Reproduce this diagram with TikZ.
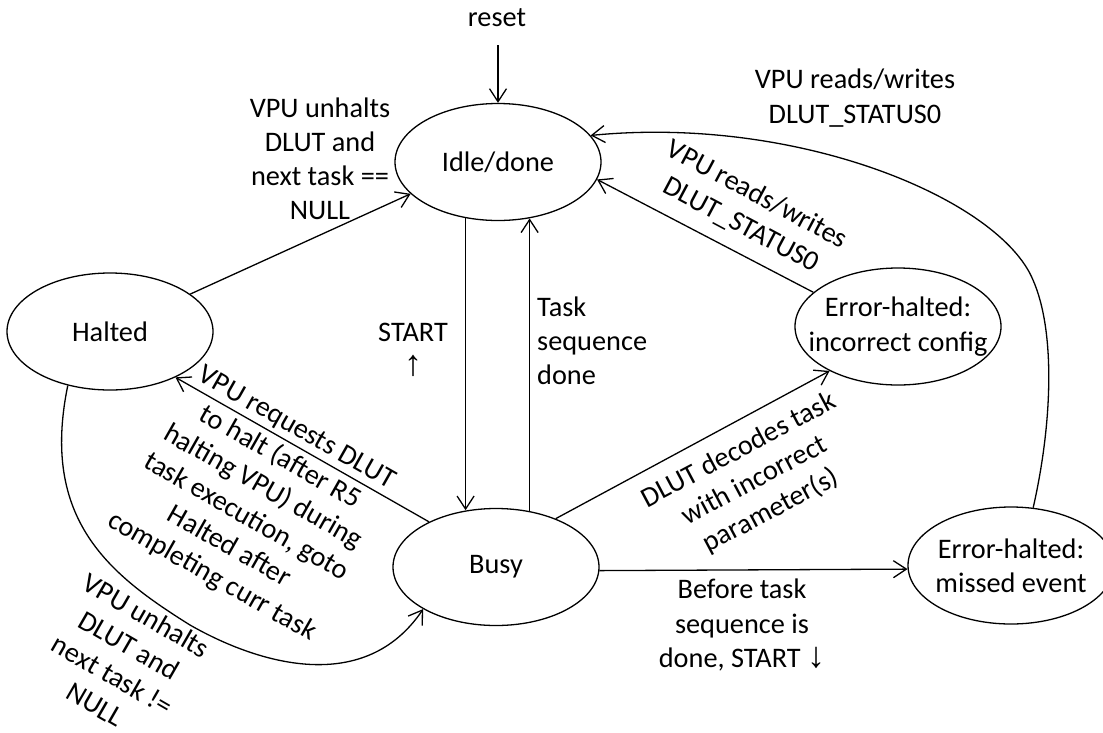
\documentclass[tikz,border=0pt]{standalone}
\usepackage{fontspec}
\setmainfont{Carlito}
\newfontfamily\arrowfont{Liberation Sans}
\usetikzlibrary{shapes.geometric,arrows.meta}

\newcommand{\uparr}{{\arrowfont\fontsize{36}{34.2}\selectfont ↑}}
\newcommand{\downarr}{{\arrowfont\fontsize{36}{34.2}\selectfont ↓}}

\tikzset{
  state/.style={ellipse, draw, line width=1.3pt, minimum width=206pt,
    minimum height=117pt, inner sep=0pt},
  lbl/.style={inner sep=0pt, align=center},
  edge/.style={line width=1.3pt,
    -{Straight Barb[length=13pt,width=17pt,line width=1.3pt]}},
}

\begin{document}
\begin{tikzpicture}[x=1pt, y=-1pt,
  every node/.style={font=\fontsize{28.3}{34.2}\selectfont}]
\useasboundingbox (0,0) rectangle (1103,732);

% states
\node[state] (idle)   at (498,162)   {};
\node[state] (halted) at (110,331.5) {};
\node[state] (busy)   at (496,567)   {};
\node[state] (config) at (898,326.5) {};
\node[state] (missed) at (1011,565.5) {};

\node[lbl] (tidle)   at (idle)   {Idle/done};
\node[lbl] (thalted) at (halted) {Halted};
\node[lbl] (tbusy)   at (busy)   {Busy};
\node[lbl] (tconfig) at (config) {Error-halted:\\incorrect config};
\node[lbl] (tmissed) at (missed) {Error-halted:\\missed event};

% reset entry
\coordinate (rst) at (498,45);
\node[lbl, anchor=base] (lreset) at (497,26) {reset};
\draw[edge] (rst) -- (idle.north);

% transitions
\draw[edge] (halted.25.7) -- (idle.200);
\draw[edge] (idle.240.9) -- (idle.240.9 |- busy.117.3);
\draw[edge] (busy.59.2) -- (busy.59.2 |- idle.299.1);
\draw[edge] (config.158.5) -- (idle.-10.5);
\draw[edge] (busy.39) -- (config.213.4);
\draw[edge] (busy.146.7) -- (halted.-35.6);
\draw[edge] (busy.-2) -- (missed.182.5);
\draw[edge] (missed.69) .. controls (1053,420) and (1055,330) .. (1033,280)
  .. controls (1000,200) and (800,115) .. (idle.16.7);
\draw[edge] (halted.232.9) .. controls (40,520) and (110,575) .. (190,625)
  .. controls (260,665) and (365,695) .. (busy.210.9);

% transition labels
\node[lbl] (lunhaltnull) at (320,158.7) {VPU unhalts\\DLUT and\\next task ==\\NULL};
\node[lbl] (lstart) at (413,350) {START\\\uparr};
\node[lbl, align=left, anchor=west] (ldone) at (537,341) {Task\\sequence\\done};
\node[lbl] (lstatus) at (855,98) {VPU reads/writes\\DLUT\_STATUS0};
\node[lbl, rotate=-28] (lstatuscfg) at (749,210) {VPU reads/writes\\DLUT\_STATUS0};
\node[lbl, rotate=28] (ldecode) at (755,481) {DLUT decodes task\\with incorrect\\parameter(s)};
\node[lbl, rotate=-29.6] (lrequest) at (254,503)
  {VPU requests DLUT\\to halt (after R5\\halting VPU) during\\task execution, goto\\Halted after\\completing curr task};
\node[lbl, rotate=-30] (lunhaltnext) at (121,660) {VPU unhalts\\DLUT and\\next task !=\\NULL};
\node[lbl] (lbefore) at (742,625) {Before task\\sequence is\\done, START \downarr};
\end{tikzpicture}
\end{document}
